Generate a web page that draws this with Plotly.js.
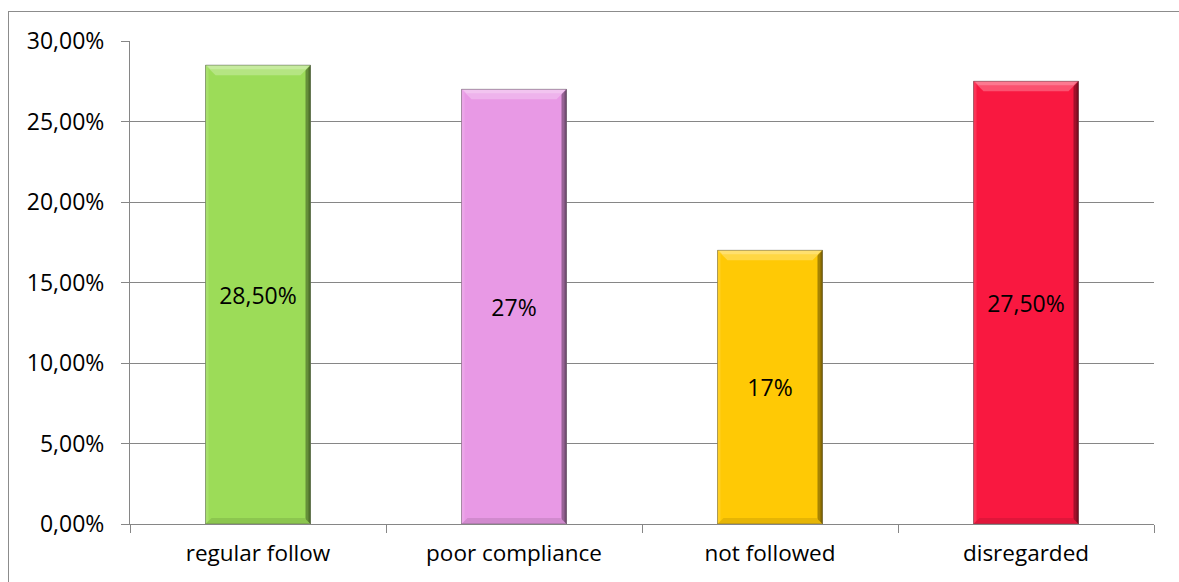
<!DOCTYPE html>
<html>
<head>
<meta charset="utf-8">
<script src="https://cdn.plot.ly/plotly-3.0.1.min.js"></script>
<style>
  html, body { margin: 0; padding: 0; background: #ffffff; }
  #wrap { position: relative; width: 1179px; height: 582px; overflow: hidden; }
  #frame { position: absolute; left: 8px; top: 11px; width: 1300px; height: 700px;
           border-left: 1px solid #8c8c8c; border-top: 1px solid #8c8c8c; }
  #chart { position: absolute; left: 0; top: 0; width: 1179px; height: 582px; }
</style>
</head>
<body>
<div id="wrap">
  <div id="frame"></div>
  <div id="chart"></div>
</div>
<script>
// Share of patients by adherence to the recommended regimen (%)
const categories = ['regular follow', 'poor compliance', 'not followed', 'disregarded'];
const shares = [28.5, 27, 17, 27.5];
const barColors = ['#9CDC58', '#E899E5', '#FFC905', '#F91840'];
const yTickValues = [0, 5, 10, 15, 20, 25, 30];

const FONT = 'Open Sans, Noto Sans, sans-serif';
const BAR_WIDTH = 0.41;       // fraction of a category slot
const HALF_PX = 52.5;         // half of the bar width in pixels (1024px / 4 slots * 0.41 / 2)

function mix(hex, target, t) {
  const n = parseInt(hex.slice(1), 16);
  const c = [(n >> 16) & 255, (n >> 8) & 255, n & 255];
  const m = c.map(v => Math.round(v + (target - v) * t));
  return 'rgb(' + m.join(',') + ')';
}

function label(v) {
  return Number.isInteger(v) ? v + '%' : v.toFixed(2).replace('.', ',') + '%';
}

function tickLabel(v) {
  return v.toFixed(2).replace('.', ',') + '%';
}

// Bevel decoration for each bar: side strips, a light top facet, a dark bottom facet
const shapes = [];
shares.forEach((v, i) => {
  const base = barColors[i];
  // left highlight strip
  shapes.push({type: 'rect', layer: 'above', xref: 'x', yref: 'y',
    xsizemode: 'pixel', xanchor: i, x0: -HALF_PX, x1: -HALF_PX + 3, y0: 0, y1: v,
    line: {width: 0}, fillcolor: mix(base, 255, 0.12)});
  // right shaded strip
  shapes.push({type: 'rect', layer: 'above', xref: 'x', yref: 'y',
    xsizemode: 'pixel', xanchor: i, x0: HALF_PX - 5, x1: HALF_PX, y0: 0, y1: v,
    line: {width: 0}, fillcolor: mix(base, 0, 0.35)});
  shapes.push({type: 'rect', layer: 'above', xref: 'x', yref: 'y',
    xsizemode: 'pixel', xanchor: i, x0: HALF_PX - 2, x1: HALF_PX, y0: 0, y1: v,
    line: {width: 0}, fillcolor: mix(base, 0, 0.5)});
  // top facet
  shapes.push({type: 'path', layer: 'above', xref: 'x', yref: 'y',
    xsizemode: 'pixel', ysizemode: 'pixel', xanchor: i, yanchor: v,
    path: `M ${-HALF_PX},0 L ${HALF_PX},0 L ${HALF_PX - 10},-10 L ${-HALF_PX + 10},-10 Z`,
    line: {width: 0}, fillcolor: mix(base, 255, 0.25)});
  shapes.push({type: 'path', layer: 'above', xref: 'x', yref: 'y',
    xsizemode: 'pixel', ysizemode: 'pixel', xanchor: i, yanchor: v,
    path: `M ${-HALF_PX + 1},0 L ${HALF_PX - 1},0 L ${HALF_PX - 5},-4 L ${-HALF_PX + 5},-4 Z`,
    line: {width: 0}, fillcolor: mix(base, 255, 0.42)});
  // bottom facet
  shapes.push({type: 'path', layer: 'above', xref: 'x', yref: 'y',
    xsizemode: 'pixel', ysizemode: 'pixel', xanchor: i, yanchor: 0,
    path: `M ${-HALF_PX},0 L ${HALF_PX},0 L ${HALF_PX - 6},6 L ${-HALF_PX + 6},6 Z`,
    line: {width: 0}, fillcolor: mix(base, 0, 0.1)});
  // outline
  shapes.push({type: 'rect', layer: 'above', xref: 'x', yref: 'y',
    xsizemode: 'pixel', xanchor: i, x0: -HALF_PX, x1: HALF_PX, y0: 0, y1: v,
    line: {width: 1, color: 'rgba(90,90,90,0.5)'}, fillcolor: 'rgba(0,0,0,0)'});
});

const trace = {
  type: 'bar',
  x: categories,
  y: shares,
  width: BAR_WIDTH,
  marker: {color: barColors, line: {width: 0}},
  text: shares.map(label),
  textposition: 'inside',
  insidetextanchor: 'middle',
  constraintext: 'none',
  textangle: 0,
  insidetextfont: {family: FONT, size: 23, color: '#000000'},
  hoverinfo: 'skip'
};

const layout = {
  width: 1179,
  height: 582,
  margin: {l: 130, r: 25, t: 41, b: 58, pad: 0},
  paper_bgcolor: 'rgba(0,0,0,0)',
  plot_bgcolor: 'rgba(0,0,0,0)',
  showlegend: false,
  font: {family: FONT, size: 22, color: '#000000'},
  xaxis: {
    type: 'category',
    automargin: false,
    showline: true, linecolor: '#868686', linewidth: 1,
    showgrid: false, zeroline: false,
    ticks: 'outside', tickson: 'boundaries', ticklen: 8, tickcolor: '#868686', tickwidth: 1,
    ticklabelstandoff: 9,
    tickfont: {family: FONT, size: 22.5, color: '#000000'}
  },
  yaxis: {
    range: [0, 30],
    automargin: false,
    tickmode: 'array',
    tickvals: yTickValues,
    ticktext: yTickValues.map(tickLabel),
    showline: true, linecolor: '#868686', linewidth: 1,
    showgrid: true, gridcolor: '#868686', gridwidth: 1,
    zeroline: false,
    ticks: 'outside', ticklen: 8, tickcolor: '#868686', tickwidth: 1,
    ticklabelstandoff: 12,
    tickfont: {family: FONT, size: 23, color: '#000000'}
  },
  shapes: shapes
};

Plotly.newPlot('chart', [trace], layout, {staticPlot: true, displayModeBar: false});
</script>
</body>
</html>
